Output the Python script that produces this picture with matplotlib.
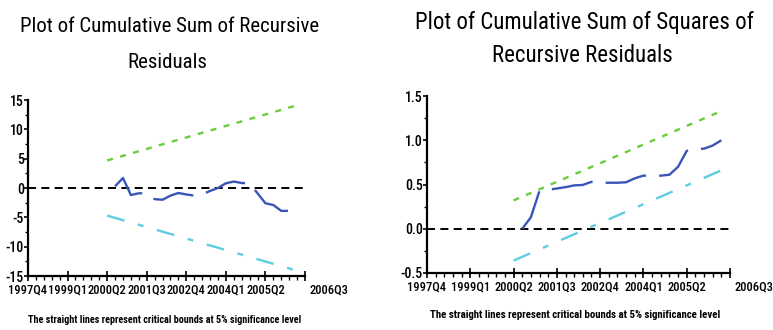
import matplotlib
matplotlib.use("Agg")
import matplotlib.pyplot as plt
from matplotlib.ticker import FixedLocator, MultipleLocator
import matplotlib.transforms as mtransforms

# ---- data -------------------------------------------------------------
tick_labels = ["1997Q4", "1999Q1", "2000Q2", "2001Q3",
               "2002Q4", "2004Q1", "2005Q2", "2006Q3"]

series_start = "2000Q3"
cusum = [0.3, 1.7, -1.2, -0.9, -0.9, -1.9, -2.0, -1.3, -0.85, -1.1, -1.3, -1.1,
         -0.5, 0.0, 0.8, 1.1, 0.85, 0.8, -0.9, -2.6, -2.9, -3.9, -3.9, -2.8]
cusumsq = [0.00, 0.13, 0.43, 0.44, 0.455, 0.47, 0.49, 0.495, 0.53, 0.52, 0.52, 0.52,
           0.525, 0.57, 0.60, 0.60, 0.60, 0.61, 0.70, 0.88, 0.90, 0.905, 0.94, 1.00]

bound_periods = ["2000Q2", "2006Q2"]
cusum_upper = [4.7, 14.1]
cusum_lower = [-4.7, -14.1]
cusumsq_upper = [0.32, 1.33]
cusumsq_lower = [-0.36, 0.66]

footnote = "The straight lines represent critical bounds at 5% significance level"

# ---- helpers ----------------------------------------------------------
BASE_YEAR, BASE_Q = 1997, 4


def qidx(p):
    return (int(p[:4]) - BASE_YEAR) * 4 + int(p[5]) - BASE_Q


def periods_from(start, n):
    y, q = int(start[:4]), int(start[5])
    out = []
    for _ in range(n):
        out.append(f"{y}Q{q}")
        q += 1
        if q > 4:
            q, y = 1, y + 1
    return out


plt.rcParams["lines.scale_dashes"] = False
NARROW = ["Roboto Condensed", "DejaVu Sans"]

BLUE = "#3a55b8"
GREEN = "#6acb3c"
CYAN = "#5fcde0"

fig = plt.figure(figsize=(7.73, 3.30), dpi=100)
ax1 = fig.add_axes([28 / 773, 54 / 330, 277 / 773, 176 / 330])
ax2 = fig.add_axes([427 / 773, 57 / 330, 303 / 773, 177 / 330])

x_series = [qidx(p) for p in periods_from(series_start, len(cusum))]
x_bounds = [qidx(p) for p in bound_periods]
last = qidx(tick_labels[-1])


def style_axes(ax, ylim, ymajor, yfmt):
    ax.set_xlim(0, last)
    ax.set_ylim(*ylim)
    for s in ("top", "right"):
        ax.spines[s].set_visible(False)
    for s in ("left", "bottom"):
        ax.spines[s].set_linewidth(1.6)
    ax.xaxis.set_major_locator(FixedLocator([qidx(t) for t in tick_labels]))
    ax.set_xticklabels(tick_labels, fontsize=9, family=NARROW, weight="medium")
    ax.xaxis.set_minor_locator(MultipleLocator(1))
    ax.yaxis.set_major_locator(MultipleLocator(ymajor))
    ax.yaxis.set_minor_locator(MultipleLocator(ymajor / 2))
    ax.yaxis.set_major_formatter(plt.FuncFormatter(lambda v, p: yfmt.format(v)))
    ax.tick_params(axis="x", which="major", direction="inout", length=7, width=1.2, pad=2)
    ax.tick_params(axis="x", which="minor", direction="out", length=3, width=1.0)
    ax.tick_params(axis="y", which="major", direction="out", length=3, width=1.2, pad=0,
                   labelsize=10)
    ax.tick_params(axis="y", which="minor", direction="out", length=2, width=1.0)
    for lab in ax.get_yticklabels():
        lab.set_family(NARROW)
        lab.set_weight("medium")
    # the final period label sits a little to the right of its tick
    labs = ax.get_xticklabels()
    off = mtransforms.ScaledTranslation(24 / 100, 0, fig.dpi_scale_trans)
    labs[-1].set_transform(labs[-1].get_transform() + off)
    ax.axhline(0, color="black", lw=1.4, dashes=(5.8, 3.8))


style_axes(ax1, (-15, 15), 5, "{:g}")
style_axes(ax2, (-0.5, 1.5), 0.5, "{:.1f}")

for ax, vals, up, lo in ((ax1, cusum, cusum_upper, cusum_lower),
                         (ax2, cusumsq, cusumsq_upper, cusumsq_lower)):
    ax.plot(x_bounds, up, color=GREEN, lw=1.7, dashes=(4.3, 5.4))
    ax.plot(x_bounds, lo, color=CYAN, lw=1.7, dashes=(13, 10, 4.3, 10))
    ax.plot(x_series, vals, color=BLUE, lw=1.7, dashes=(30, 9.4))

fig.text(170 / 773, 1 - 27 / 330, "Plot of Cumulative Sum of Recursive",
         ha="center", va="center", fontsize=15, family=NARROW)
fig.text(167 / 773, 1 - 63 / 330, "Residuals",
         ha="center", va="center", fontsize=15, family=NARROW)
fig.text(584 / 773, 1 - 22 / 330, "Plot of Cumulative Sum of Squares of",
         ha="center", va="center", fontsize=16.5, family=NARROW)
fig.text(582 / 773, 1 - 56 / 330, "Recursive Residuals",
         ha="center", va="center", fontsize=16.5, family=NARROW)

fig.text(165 / 773, 1 - 320 / 330, footnote, ha="center", va="center",
         fontsize=7.3, family=NARROW, weight="bold")
fig.text(575 / 773, 1 - 315 / 330, footnote, ha="center", va="center",
         fontsize=7.8, family=NARROW, weight="bold")

fig.savefig("out.png", dpi=100)
